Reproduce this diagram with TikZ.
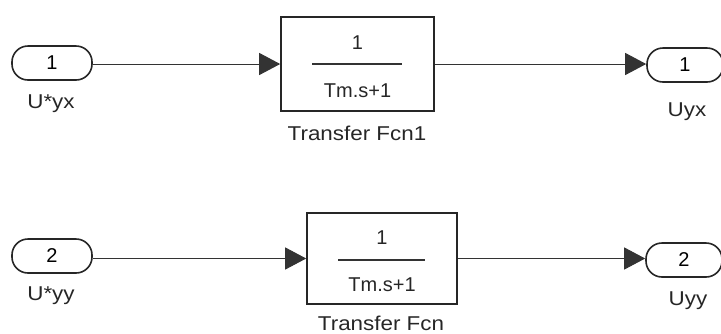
\documentclass[tikz,border=0pt]{standalone}
\usepackage{fontspec}
\setmainfont{Liberation Sans}
\newfontfamily\lblfont[FakeStretch=1.12]{Liberation Sans}
\usetikzlibrary{arrows.meta}
\tikzset{
  port/.style={draw=black!85, line width=1.6pt, rounded corners=16pt, minimum width=80pt, minimum height=34pt, inner sep=0pt, font=\fontsize{20}{20}\selectfont},
  tfbox/.style={draw=black!85, line width=1.6pt, minimum width=153pt, minimum height=94pt, inner sep=0pt},
  lbl/.style={font=\lblfont\fontsize{20}{20}\selectfont, text=black!85, inner sep=0pt},
  frac/.style={font=\fontsize{20}{20}\selectfont, text=black!85, inner sep=0pt},
  conn/.style={draw=black!80, line width=1pt, -{Triangle[length=21pt, width=22pt]}}
}
\begin{document}
\begin{tikzpicture}[x=1pt, y=-1pt]
\useasboundingbox (0,0) rectangle (721,333);
% top row
\node[port] (in1) at (52,63) {1};
\node[lbl] (in1l) at (51,104) {U*yx};
\node[tfbox] (tf1) at (357.5,64) {};
\node[frac] (tf1n) at (357.5,43) {1};
\node[frac] (tf1d) at (357.5,91) {Tm.s+1};
\draw[line width=1.4pt, draw=black!80] (312,64) -- (402,64);
\node[lbl] (tf1l) at (357,133) {Transfer Fcn1};
\node[port, minimum width=76pt] (out1) at (685,65) {1};
\node[lbl] (out1l) at (687,112) {Uyx};
\draw[conn] (in1.east |- 0,64) -- (tf1.west);
\draw[conn] (tf1.east) -- (out1.west |- 0,64);
% bottom row
\node[port] (in2) at (52,256) {2};
\node[lbl] (in2l) at (51,296) {U*yy};
\node[tfbox, minimum width=150pt, minimum height=91pt] (tf2) at (382,258.5) {};
\node[frac] (tf2n) at (382,238) {1};
\node[frac] (tf2d) at (382,285) {Tm.s+1};
\draw[line width=1.4pt, draw=black!80] (338,260) -- (425,260);
\node[lbl] (tf2l) at (381,323) {Transfer Fcn};
\node[port, minimum width=76pt] (out2) at (684,260) {2};
\node[lbl] (out2l) at (688,301) {Uyy};
\draw[conn] (in2.east |- 0,258.5) -- (tf2.west);
\draw[conn] (tf2.east) -- (out2.west |- 0,258.5);
\end{tikzpicture}
\end{document}
